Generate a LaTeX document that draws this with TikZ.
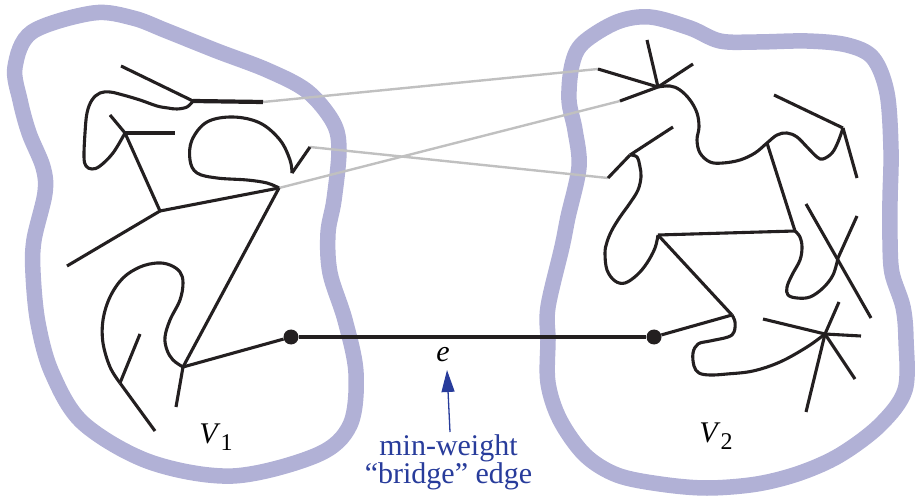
\documentclass[tikz,border=0pt]{standalone}
\usepackage{fontspec}
\setmainfont{Liberation Serif}
\usetikzlibrary{arrows.meta}
\definecolor{blob}{RGB}{177,177,214}
\definecolor{grayl}{RGB}{192,192,192}
\definecolor{ink}{RGB}{35,31,32}
\definecolor{note}{RGB}{40,60,155}
\begin{document}
\begin{tikzpicture}[x=1bp,y=-1bp,
  blobline/.style={draw=blob,line width=15.5bp},
  tree/.style={draw=ink,line width=3.1bp,line join=round},
  thicktree/.style={draw=ink,line width=4.2bp},
  bridgeline/.style={draw=ink,line width=4.4bp},
  cut/.style={draw=grayl,line width=2.4bp},
  dot/.style={circle,fill=ink,inner sep=0pt,minimum size=15bp},
  lbl/.style={inner sep=0pt,anchor=base,font=\fontsize{30bp}{30bp}\selectfont},
  notelbl/.style={inner sep=0pt,text=note,align=center,font=\fontsize{30bp}{26bp}\selectfont}]
\useasboundingbox (0,0) rectangle (917,497);

% ---- clusters
\draw[blobline] plot[smooth cycle, tension=0.55] coordinates {(93,13) (133,18) (167,31) (217,51) (267,70) (307,91) (333,122) (339,150) (334,200) (328,233) (330,273) (345,320) (356,373) (350,425) (317,455) (233,476) (150,462) (83,423) (52,373) (38,323) (33,273) (34,240) (45,193) (43,167) (29,133) (20,100) (15,67) (32,32)};
\draw[blobline] plot[smooth cycle, tension=0.55] coordinates {(583,43) (617,22) (650,17) (690,28) (720,41) (757,42) (807,41) (847,45) (873,58) (887,93) (891,150) (890,200) (890,240) (892,273) (903,307) (906,340) (905,390) (880,425) (840,455) (800,473) (757,484) (707,488) (660,484) (617,475) (585,455) (560,420) (548,383) (548,340) (548,307) (562,247) (568,217) (579,167) (575,130) (569,100) (572,65)};

% ---- left tree coordinates
\coordinate (a1) at (193,101);
\coordinate (a1n) at (121,66);
\coordinate (a1e) at (263,102);
\coordinate (a2) at (125,133);
\coordinate (a2n) at (110,115);
\coordinate (a2e) at (175,133);
\coordinate (a3) at (160,211);
\coordinate (a3w) at (67,266);
\coordinate (a4) at (279,188);
\coordinate (a4c) at (292,173);
\coordinate (av) at (310,147);
\coordinate (a5) at (183,367);
\coordinate (a5s) at (176,407);
\coordinate (a6) at (120,383);
\coordinate (a6s) at (155,431);
\coordinate (a6n) at (140,334);

% ---- right tree coordinates
\coordinate (b1) at (658,87);
\coordinate (b1n) at (647,40);
\coordinate (b1ne) at (693,64);
\coordinate (b1w) at (598,69);
\coordinate (b1s) at (620,101);
\coordinate (b2) at (767,143);
\coordinate (b3) at (843,128);
\coordinate (b3n) at (774,95);
\coordinate (b3s) at (857,178);
\coordinate (b4) at (795,231);
\coordinate (b5) at (658,235);
\coordinate (b6) at (732,315);
\coordinate (c1) at (630,155);
\coordinate (c1n) at (673,127);
\coordinate (c1w) at (608,178);
\coordinate (x) at (838,258);
\coordinate (xa) at (806,204);
\coordinate (xb) at (871,318);
\coordinate (xc) at (857,216);
\coordinate (s) at (825,334);
\coordinate (s1) at (763,319);
\coordinate (s2) at (861,336);
\coordinate (s3) at (839,302);
\coordinate (s4) at (806,412);
\coordinate (s5) at (855,379);

% ---- crossing edges (gray)
\draw[cut] (a1e) -- (b1w);
\draw[cut] (a4) -- (b1s);
\draw[cut] (av) -- (c1w);

% ---- left tree
\draw[tree] (a1n) -- (a1);
\draw[thicktree] (a1) -- (a1e);
\draw[tree] plot[smooth, tension=0.6] coordinates {(a1) (187,107) (177,109) (168,108) (157,106) (140,100) (123,95) (110,92) (100,93) (92,100) (87,113) (85,133) (84,157) (86,166) (92,169) (100,166) (113,153) (a2)};
\draw[tree] (a2n) -- (a2);
\draw[thicktree] (a2) -- (a2e);
\draw[tree] (a2) -- (a3);
\draw[tree] (a3) -- (a3w);
\draw[tree] (a3) -- (a4);
\draw[tree] plot[smooth, tension=0.6] coordinates {(a4) (267,183) (247,180) (217,178) (197,173) (190,160) (192,140) (207,122) (233,117) (260,123) (280,140) (290,160) (a4c)};
\draw[tree] (a4c) -- (av);
\draw[tree] (a4) -- (a5);
\draw[tree] (a5) -- (a5s);
\draw[tree] plot[smooth, tension=0.6] coordinates {(a5) (173,360) (167,350) (165,337) (170,320) (180,300) (183,283) (180,272) (170,265) (157,263) (140,267) (123,278) (110,297) (103,320) (103,343) (110,367) (a6)};
\draw[tree] (a6) -- (a6s);
\draw[tree] (a6) -- (a6n);

% ---- right tree
\draw[tree] (b1) -- (b1n);
\draw[tree] (b1) -- (b1ne);
\draw[tree] (b1) -- (b1w);
\draw[tree] (b1) -- (b1s);
\draw[tree] plot[smooth, tension=0.6] coordinates {(b1) (670,86) (680,90) (690,100) (697,113) (699,127) (697,140) (700,153) (710,162) (723,163) (740,160) (755,153) (b2) (777,135) (787,133) (797,137) (807,147) (817,157) (823,159) (832,153) (838,142) (b3)};
\draw[tree] (b3) -- (b3n);
\draw[tree] (b3) -- (b3s);
\draw[tree] (b2) -- (b4);
\draw[tree] (c1) -- (c1n);
\draw[tree] (c1) -- (c1w);
\draw[tree] plot[smooth, tension=0.6] coordinates {(c1) (637,157) (640,167) (641,177) (638,190) (630,203) (620,217) (612,230) (607,242) (605,253) (607,270) (615,281) (625,283) (637,275) (647,263) (655,248) (b5)};
\draw[tree] (b5) -- (b4);
\draw[tree] (b5) -- (b6);
\draw[tree] plot[smooth, tension=0.6] coordinates {(b4) (800,237) (802,247) (800,260) (792,275) (787,287) (788,295) (797,298) (810,297) (823,288) (833,275) (x)};
\draw[tree] (xa) -- (xb);
\draw[tree] (xc) -- (x);
\draw[tree] plot[smooth, tension=0.6] coordinates {(b6) (735,322) (734,332) (728,337) (710,341) (698,344) (693,353) (694,366) (699,373) (710,375) (727,374) (753,371) (780,362) (807,347) (s)};
\draw[tree] (s) -- (s1);
\draw[tree] (s) -- (s2);
\draw[tree] (s) -- (s3);
\draw[tree] (s) -- (s4);
\draw[tree] (s) -- (s5);

% ---- bridge edge
\node[dot] (dl) at (291,337) {};
\node[dot] (dr) at (654,337) {};
\draw[tree] (a5) -- (dl);
\draw[tree] (b6) -- (dr);
\draw[bridgeline] (dl) -- (dr);

% ---- labels
\node[lbl] (v1) at (216,443) {\textit{V}\raisebox{-7bp}{\fontsize{24bp}{24bp}\selectfont 1}};
\node[lbl] (v2) at (716,442) {\textit{V}\raisebox{-7bp}{\fontsize{24bp}{24bp}\selectfont 2}};
\node[lbl] (e) at (443,362) {\textit{e}};
\node[notelbl,anchor=north] (m) at (448.5,434.5) {min-weight\\“bridge” edge};
\coordinate (tail) at (450,432);
\coordinate (tip) at (447,370);
\draw[note,line width=1.3bp,-{Triangle[length=22bp,width=13bp]}] (tail) -- (tip);
\end{tikzpicture}
\end{document}
